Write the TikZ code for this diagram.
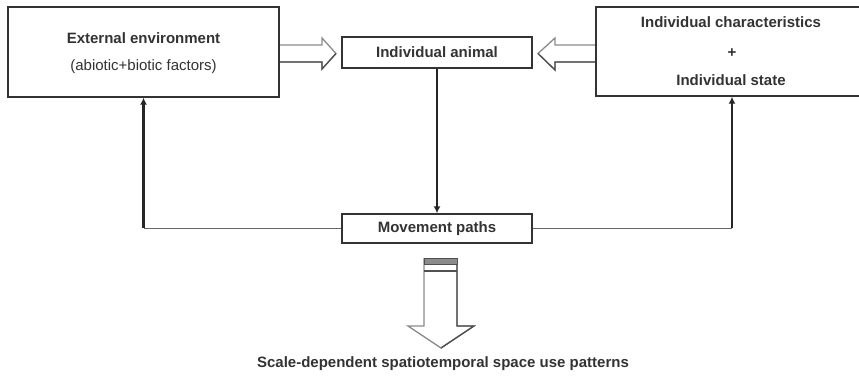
\documentclass[tikz,border=0pt]{standalone}
\usepackage{fontspec}
\setmainfont{Liberation Sans}
\usetikzlibrary{arrows.meta,calc}
\definecolor{ink}{HTML}{333333}
\definecolor{lgray}{HTML}{8A8A8A}
\definecolor{dgray}{HTML}{505050}
\begin{document}
\begin{tikzpicture}[x=1pt,y=-1pt,
  box/.style={draw=ink, line width=1.4pt, inner sep=0pt, fill=white},
  txt/.style={text=ink, inner sep=0pt, font=\fontsize{15}{18}\selectfont},
  btxt/.style={txt, font=\fontsize{15}{18}\selectfont\bfseries},
  conn/.style={draw=black!85, line width=2.4pt, -{Latex[length=7pt,width=7pt]}},
  hline/.style={draw=black!60, line width=1.7pt},
  hollow/.style={draw=lgray, line width=1.3pt, fill=white, line join=miter}]
\useasboundingbox (0,0) rectangle (859,384);
% boxes
\node[box, minimum width=271pt, minimum height=90pt] (env) at (143.5,52) {};
\node[btxt] (envA) at (143.5,38) {External environment};
\node[txt] (envB) at (143.5,67) {(abiotic+biotic factors)};
\node[box, minimum width=190pt, minimum height=31pt] (animal) at (437,52.5) {};
\node[btxt] (animalT) at (animal.center) {Individual animal};
\node[box, minimum width=272pt, minimum height=89pt] (indiv) at (732,51.5) {};
\node[btxt] (indivA) at (731,22) {Individual characteristics};
\node[btxt] (indivB) at (732,53) {+};
\node[btxt] (indivC) at (731,80) {Individual state};
\node[box, minimum width=190pt, minimum height=29pt] (move) at (437,228.5) {};
\node[btxt] (moveT) at (move.center) {Movement paths};
\node[btxt] (result) at (443,364) {Scale-dependent spatiotemporal space use patterns};
% connectors
\draw[conn] (animal.south) -- (move.north);
\coordinate (lc) at (move.west -| env.south);
\coordinate (rc) at (move.east -| indiv.south);
\draw[hline] (move.west) -- (lc);
\draw[conn] ([yshift=0.85pt]lc) -- (env.south);
\draw[hline] (move.east) -- (rc);
\draw[conn] ([yshift=0.85pt]rc) -- (indiv.south);
% hollow arrows
\draw[hollow] (env.east |- 0,45) -- (322,45) -- (322,38) -- (336,53.5) -- (322,69) -- (322,62) -- (env.east |- 0,62);
\draw[dgray, line width=1.3pt] (env.east |- 0,62) -- (322,62) -- (322,69) -- (336,53.5);
\draw[hollow] (indiv.west |- 0,45) -- (555,45) -- (555,38) -- (538,53.5) -- (555,70) -- (555,62) -- (indiv.west |- 0,62);
\draw[dgray, line width=1.3pt] (indiv.west |- 0,62) -- (555,62) -- (555,70) -- (538,53.5);
% redraw box borders over arrow ends
\draw[ink, line width=1.4pt] (env.north east) -- (env.south east);
\draw[ink, line width=1.4pt] (indiv.north west) -- (indiv.south west);
% bottom big arrow
\draw[draw=lgray, line width=1.3pt, fill=white] (424,258) -- (424,326) -- (408,326) -- (441,348) -- (474,326) -- (457,326) -- (457,258);
\draw[dgray, line width=1.3pt] (457,258) -- (457,326) -- (474,326) -- (441,348);
\fill[black!45] (424,258) rectangle (457,264.5);
\draw[dgray, line width=1pt] (424,258) rectangle (457,264.5);
\draw[dgray, line width=1.3pt] (424,271) -- (457,271);
\end{tikzpicture}
\end{document}
